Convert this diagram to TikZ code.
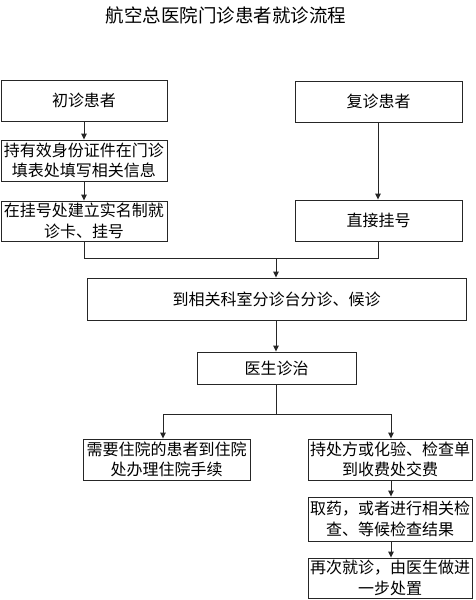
\documentclass[tikz,border=0pt]{standalone}
\usepackage{fontspec}
\setmainfont{Noto Sans CJK SC}
\usetikzlibrary{arrows.meta}
\begin{document}
\begin{tikzpicture}[x=1pt,y=-1pt,
  box/.style={draw=black!85,line width=0.9pt,inner sep=0pt,align=center,
    font=\fontsize{16}{20.5}\selectfont},
  conn/.style={draw=black!85,line width=0.9pt},
  arr/.style={conn,-{Triangle[length=6pt,width=5.5pt]}}]
\useasboundingbox[fill=white] (0,0) rectangle (475,600);
\node[font=\fontsize{18.5}{22}\selectfont] (title) at (226,15) {航空总医院门诊患者就诊流程};
\node[box,minimum width=166pt,minimum height=41pt] (a1) at (84,100.5) {初诊患者};
\node[box,minimum width=166pt,minimum height=41pt] (a2) at (84,160.5) {持有效身份证件在门诊\\填表处填写相关信息};
\node[box,minimum width=166pt,minimum height=40pt] (a3) at (84,221) {在挂号处建立实名制就\\诊卡、挂号};
\node[box,minimum width=167pt,minimum height=41pt] (b1) at (378.5,101.5) {复诊患者};
\node[box,minimum width=167pt,minimum height=41pt] (b2) at (378.5,220.5) {直接挂号};
\node[box,minimum width=379pt,minimum height=42pt] (c) at (276.5,299) {到相关科室分诊台分诊、候诊};
\node[box,minimum width=159pt,minimum height=32pt] (d) at (276.5,368) {医生诊治};
\node[box,minimum width=167pt,minimum height=41pt] (l) at (166.5,459.5) {需要住院的患者到住院\\处办理住院手续};
\node[box,minimum width=164pt,minimum height=41pt] (p1) at (390,459.5) {持处方或化验、检查单\\到收费处交费};
\node[box,minimum width=164pt,minimum height=44pt] (p2) at (390,519) {取药，或者进行相关检\\查、等候检查结果};
\node[box,minimum width=164pt,minimum height=40pt] (p3) at (390,578) {再次就诊，由医生做进\\一步处置};
\coordinate (m) at (276,258);
\coordinate (s) at (276,414);
\draw[arr] (a1) -- (a2);
\draw[arr] (a2) -- (a3);
\draw[arr] (b1.south -| 378,0) -- (b2.north -| 378,0);
\draw[conn] (a3.south) |- (m);
\draw[conn] (b2.south -| 378,0) |- (m);
\draw[arr] (m) -- (c.north -| m);
\draw[arr] (c.south -| s) -- (d.north -| s);
\draw[conn] (d.south -| s) -- (s);
\draw[arr] (s) -| (l.north -| 163,0);
\draw[arr] (s) -| (p1.north -| 391,0);
\draw[arr] (p1.south -| 391,0) -- (p2.north -| 391,0);
\draw[arr] (p2.south -| 391,0) -- (p3.north -| 391,0);
\end{tikzpicture}
\end{document}
